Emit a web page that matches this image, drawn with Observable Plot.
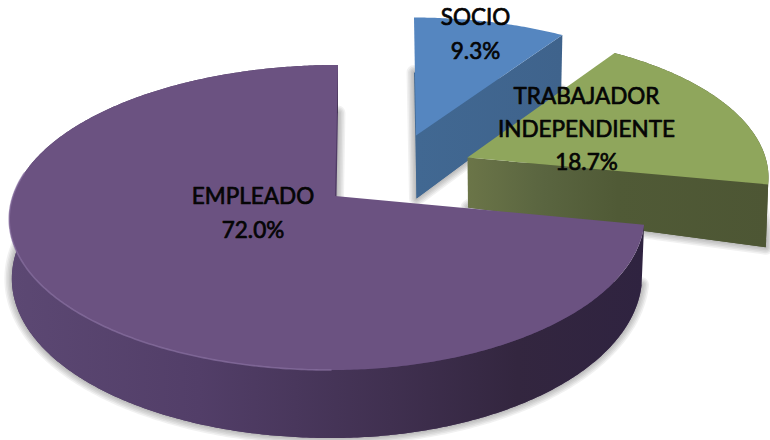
<!DOCTYPE html>
<html>
<head>
<meta charset="utf-8">
<script src="https://cdn.jsdelivr.net/npm/d3@7"></script>
<script src="https://cdn.jsdelivr.net/npm/@observablehq/plot@0.6"></script>
<style>
html,body{margin:0;padding:0;background:#fff;overflow:hidden}
</style>
</head>
<body>
<div id="chart"></div>
<script>
// Data
const categories = ["SOCIO", "TRABAJADOR\nINDEPENDIENTE", "EMPLEADO"];
const shares = [9.3, 18.7, 72.0];

(function () {
// Layout of the perspective pie (kept apart from the data)
const tilt = -0.141;
const layout = [
  {ax: 415.5, ay: 135, dl: 300, dr: 300, a: 134.6, sk: 0.017, ah: 63, h0: 63, h1: 8, lx: 475, ly: 17.5},
  {ax: 467, ay: 157, dl: 297, dr: 298, a: 140, sk: 0, ah: 50, h0: 60, h1: 15, lx: 586, ly: 96},
  {ax: 334.5, ay: 195.5, dl: 322, dr: 307, a: 149.5, sk: -0.023, ah: 58, h0: 58, h1: 10, lx: 252.5, ly: 196.5}
];
const arcs = d3.pie().sort(null).value(d => d)(shares);

function pt(i, theta, down = false) {
  const s = layout[i], u = Math.sin(theta), v = -Math.cos(theta), den = 1 + tilt * v;
  const dy = s.a * v / den;
  const x = s.ax + (u < 0 ? s.dl : s.dr) * u / den + s.sk * dy;
  const y = s.ay + dy;
  return down ? {x: s.ax + (x - s.ax) * 0.992, y: y + s.h0 + s.h1 * v} : {x, y};
}
function rim(i, t0, t1, down) {
  const n = Math.ceil(Math.abs(t1 - t0) / 0.01), out = [];
  for (let k = 0; k <= n; k++) out.push(pt(i, t0 + (t1 - t0) * k / n, down));
  return out;
}
const apex = i => ({x: layout[i].ax, y: layout[i].ay});
const apexDown = i => ({x: layout[i].ax + 0.5, y: layout[i].ay + layout[i].ah});
const face = i => [apex(i), ...rim(i, arcs[i].startAngle, arcs[i].endAngle), apex(i)];
const lowerFace = i => [apexDown(i), ...rim(i, arcs[i].startAngle, arcs[i].endAngle, true), apexDown(i)];
const cutFace = i => {
  const e = arcs[i].endAngle;
  return [apex(i), pt(i, e), pt(i, e, true), apexDown(i)];
};
const sideWall = i => [
  ...rim(i, arcs[i].startAngle, arcs[i].endAngle),
  ...rim(i, arcs[i].endAngle, arcs[i].startAngle, true)
];

const stops = (id, list) => {
  const g = d3.create("svg:linearGradient").attr("id", id).attr("x1", 0).attr("x2", 1).attr("y1", 0).attr("y2", 0);
  list.forEach(([o, c]) => g.append("stop").attr("offset", o).attr("stop-color", c));
  return g.node();
};
const defs = () => {
  const d = d3.create("svg:defs");
  d.node().append(
    stops("wallPurple", [[0, "#5c4873"], [0.3, "#523e68"], [0.6, "#403050"], [0.8, "#33263f"], [1, "#2f2340"]]),
    stops("faceGreen", [[0, "#6b7548"], [0.25, "#5a6540"], [0.5, "#505a36"], [1, "#4d5634"]]),
    stops("faceBlue", [[0, "#416892"], [1, "#3f638c"]])
  );
  return d.node();
};

const poly = (pts, fill) => Plot.line(pts, {x: "x", y: "y", stroke: "none", fill, curve: "linear"});
// Soft shadow: concentric translucent outlines behind a shape
const shadow = pts => [15, 12, 9, 6, 3].map(w =>
  Plot.line(pts, {x: "x", y: "y", stroke: "#000", strokeOpacity: 0.055, strokeWidth: w, strokeLinejoin: "round", curve: "linear"})
);

const labels = categories.map((c, i) => ({
  x: layout[i].lx, y: layout[i].ly, text: c + "\n" + shares[i].toFixed(1) + "%"
}));

const plot = Plot.plot({
  width: 770, height: 440, margin: 0,
  x: {domain: [0, 770], axis: null},
  y: {domain: [440, 0], axis: null},
  style: {background: "#fff", overflow: "hidden"},
  marks: [
    defs,
    // SOCIO
    shadow(lowerFace(0)),
    poly(lowerFace(0), "#416892"),
    poly(cutFace(0), "url(#faceBlue)"),
    poly(face(0), "#5586c0"),
    // TRABAJADOR INDEPENDIENTE
    shadow(lowerFace(1)),
    poly(lowerFace(1), "#4d5634"),
    poly(sideWall(1), "#4d5634"),
    poly(cutFace(1), "url(#faceGreen)"),
    poly(face(1), "#8fa65c"),
    // EMPLEADO
    shadow(lowerFace(2)),
    poly(lowerFace(2), "#513c66"),
    poly(sideWall(2), "url(#wallPurple)"),
    poly(face(2), "#6b5281"),
    Plot.line(rim(2, Math.PI, Math.PI * 1.55), {x: "x", y: "y", stroke: "#8a72a3", strokeWidth: 1.6, strokeOpacity: 0.7, curve: "linear"}),
    Plot.text(labels, {
      x: "x", y: "y", text: "text", lineHeight: 1.47, lineAnchor: "top", textAnchor: "middle", dy: -16,
      fontFamily: "Lato", fontSize: 22.5, fill: "#050505", stroke: "#050505", strokeWidth: 0.7
    })
  ]
});
document.getElementById("chart").append(plot);
})();
</script>
</body>
</html>
